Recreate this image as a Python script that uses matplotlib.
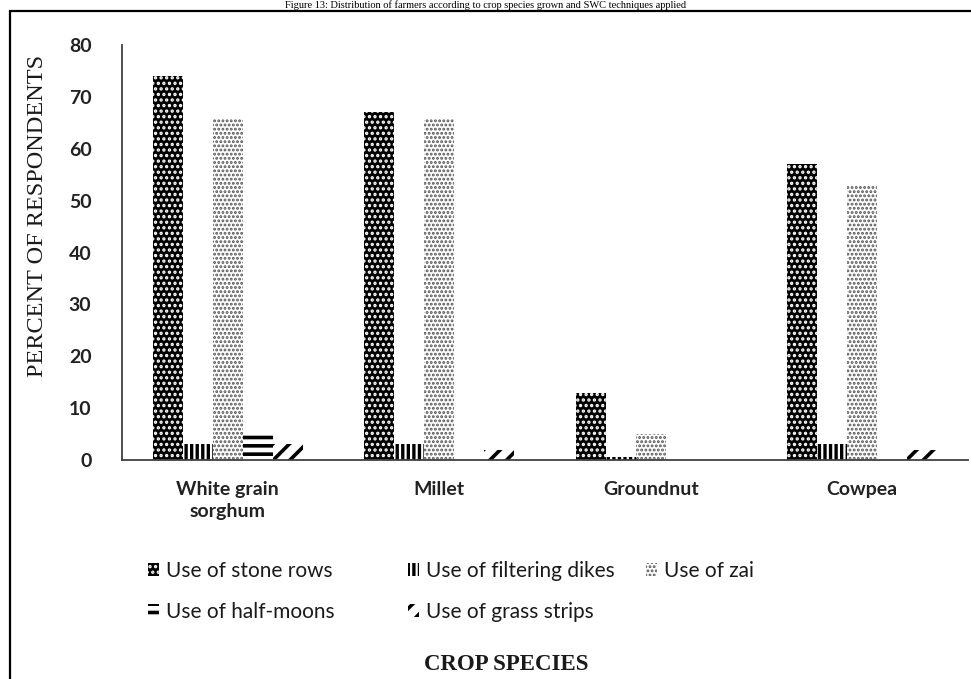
import matplotlib
matplotlib.use("Agg")
import matplotlib.pyplot as plt
from matplotlib.patches import Rectangle, Patch
import numpy as np

categories = ["White grain\nsorghum", "Millet", "Groundnut", "Cowpea"]
techniques = ["Use of stone rows", "Use of filtering dikes", "Use of zai",
              "Use of half-moons", "Use of grass strips"]
stone_rows = [74, 67, 13, 57]
filtering_dikes = [3, 3, 0.5, 3]
zai = [66, 66, 5, 53]
half_moons = [5, 0, 0, 0]
grass_strips = [3, 2, 0, 2]
yticks = [0, 10, 20, 30, 40, 50, 60, 70, 80]

series = [stone_rows, filtering_dikes, zai, half_moons, grass_strips]
# (face, hatch colour, hatch pattern, hatch width)
styles = [
    ("black", "white", "...", 1.6),
    ("white", "black", "|||", 2.4),
    ("white", "#555555", "....", 1.4),
    ("white", "black", "--", 2.6),
    ("white", "black", "//", 2.6),
]

W, H = 971, 679
fig = plt.figure(figsize=(W / 100, H / 100), dpi=100)
ax = fig.add_axes([122 / W, 1 - 460 / H, (968 - 122) / W, (460 - 45) / H])

tick_font = dict(family="Lato", weight="bold", size=14, color="#222222")

x = np.arange(len(categories))
bw = 0.142
for i, (vals, (fc, hc, hatch, hlw)) in enumerate(zip(series, styles)):
    offs = (i - 2) * bw
    bars = ax.bar(x + offs, vals, width=bw, facecolor=fc, edgecolor=hc,
                  hatch=hatch, linewidth=0)
    for b in bars:
        if hasattr(b, "set_hatch_linewidth"):
            b.set_hatch_linewidth(hlw)

ax.set_xlim(-0.5, len(categories) - 0.5)
ax.set_ylim(0, 80)
ax.set_yticks(yticks)
ax.set_yticklabels([str(v) for v in yticks], fontdict=tick_font)
ax.set_xticks(x)
ax.set_xticklabels(categories, fontdict=tick_font, linespacing=1.4)
ax.tick_params(axis="both", length=0)
ax.tick_params(axis="y", pad=22)
ax.tick_params(axis="x", pad=15)
for s in ["top", "right"]:
    ax.spines[s].set_visible(False)
for s in ["left", "bottom"]:
    ax.spines[s].set_color("#404040")
    ax.spines[s].set_linewidth(1.3)

fig.text(38 / W, 1 - 216 / H, "PERCENT OF RESPONDENTS", rotation=90,
         ha="center", va="center", family="Liberation Serif", size=17.5,
         color="#1a1a1a")
fig.text(506 / W, 1 - 664 / H, "CROP SPECIES", ha="center", va="center",
         family="Liberation Serif", weight="bold", size=16.5, color="#1a1a1a")

# Legend laid out in three columns, two rows
def handle(i):
    fc, hc, hatch, hlw = styles[i]
    p = Patch(facecolor=fc, edgecolor=hc, hatch=hatch, linewidth=0)
    return p

cols = [([0, 3], 148), ([1, 4], 408), ([2], 646)]
leg_font = dict(family="Lato", size=15)
for idx, xpix in cols:
    leg = fig.legend([handle(i) for i in idx], [techniques[i] for i in idx],
                     loc="upper left", bbox_to_anchor=(xpix / W, 1 - 561 / H),
                     frameon=False, prop=leg_font, handlelength=0.55,
                     handleheight=0.55, handletextpad=0.3, labelspacing=1.0,
                     borderpad=0, borderaxespad=0, labelcolor="#1a1a1a")
    for h, i in zip(leg.legend_handles, idx):
        if hasattr(h, "set_hatch_linewidth"):
            h.set_hatch_linewidth(styles[i][3])

# Outer frame and caption
fig.add_artist(Rectangle((10 / W, -0.05), 1.1, 1 - 11 / H + 0.05,
                         transform=fig.transFigure, fill=False,
                         edgecolor="black", linewidth=1.6, clip_on=False))
fig.text(0.5, 1 - 8 / H,
         "Figure 13: Distribution of farmers according to crop species grown and SWC techniques applied",
         ha="center", va="baseline", family="Liberation Serif", size=7.5)

fig.savefig("out.png", dpi=100)
